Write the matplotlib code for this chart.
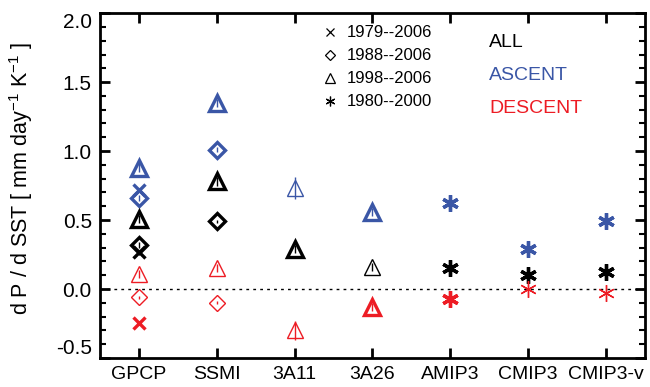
import matplotlib
matplotlib.use("Agg")
import matplotlib.pyplot as plt
from matplotlib.ticker import MultipleLocator
import numpy as np

plt.rcParams['font.family'] = ['Liberation Sans', 'DejaVu Sans']
plt.rcParams['mathtext.fontset'] = 'custom'
plt.rcParams['mathtext.rm'] = 'Liberation Sans'
plt.rcParams['mathtext.it'] = 'Liberation Sans'

categories = ["GPCP", "SSMI", "3A11", "3A26", "AMIP3", "CMIP3", "CMIP3-v"]
periods = ["1979--2006", "1988--2006", "1998--2006", "1980--2000"]
regions = ["ALL", "ASCENT", "DESCENT"]

# one entry per plotted point
pt_cat    = ["GPCP"]*9 + ["SSMI"]*6 + ["3A11"]*3 + ["3A26"]*3 + ["AMIP3"]*3 + ["CMIP3"]*3 + ["CMIP3-v"]*3
pt_period = ["1998--2006", "1979--2006", "1988--2006", "1998--2006", "1988--2006", "1979--2006",
             "1998--2006", "1988--2006", "1979--2006",
             "1998--2006", "1988--2006", "1998--2006", "1988--2006", "1998--2006", "1988--2006",
             "1998--2006", "1998--2006", "1998--2006",
             "1998--2006", "1998--2006", "1998--2006",
             "1980--2000", "1980--2000", "1980--2000",
             "1980--2000", "1980--2000", "1980--2000",
             "1980--2000", "1980--2000", "1980--2000"]
pt_region = ["ASCENT", "ASCENT", "ASCENT", "ALL", "ALL", "ALL", "DESCENT", "DESCENT", "DESCENT",
             "ASCENT", "ASCENT", "ALL", "ALL", "DESCENT", "DESCENT",
             "ASCENT", "ALL", "DESCENT",
             "ASCENT", "ALL", "DESCENT",
             "ASCENT", "ALL", "DESCENT",
             "ASCENT", "ALL", "DESCENT",
             "ASCENT", "ALL", "DESCENT"]
pt_value  = [0.88, 0.72, 0.66, 0.51, 0.32, 0.27, 0.11, -0.06, -0.25,
             1.35, 1.01, 0.78, 0.49, 0.15, -0.10,
             0.73, 0.29, -0.30,
             0.56, 0.16, -0.13,
             0.62, 0.15, -0.07,
             0.29, 0.10, 0.00,
             0.49, 0.12, -0.03]
pt_err    = [0.03, 0.0, 0.02, 0.03, 0.02, 0.0, 0.03, 0.01, 0.0,
             0.03, 0.02, 0.03, 0.01, 0.03, 0.01,
             0.08, 0.03, 0.07,
             0.03, 0.03, 0.03,
             0.0, 0.0, 0.0,
             0.0, 0.0, 0.0,
             0.0, 0.0, 0.0]
pt_thick  = [True, True, True, True, True, True, False, False, True,
             True, True, True, True, False, False,
             False, True, False,
             True, False, True,
             True, True, True,
             True, True, False,
             True, True, False]

colors = {"ALL": "black", "ASCENT": "#3a56a6", "DESCENT": "#ed1c24"}
markers = {"1979--2006": "x", "1988--2006": "D", "1998--2006": "^", "1980--2000": (6, 2, 0)}
msizes = {"1979--2006": 9, "1988--2006": 8, "1998--2006": 12, "1980--2000": 12}
leg_sizes = {"1979--2006": 6, "1988--2006": 5, "1998--2006": 7, "1980--2000": 7}

fig = plt.figure(figsize=(6.5, 3.87), dpi=100)
ax = fig.add_axes([0.154, 0.075, 0.838, 0.891])

xpos = {c: i + 1 for i, c in enumerate(categories)}
for c, p, r, v, e, t in zip(pt_cat, pt_period, pt_region, pt_value, pt_err, pt_thick):
    x = xpos[c]
    col = colors[r]
    lw = 2.4 if t else 1.0
    if e > 0:
        ax.errorbar([x], [v], yerr=[e], fmt='none', ecolor=col, elinewidth=1.0, capsize=0, zorder=2)
    ax.plot([x], [v], linestyle='none', marker=markers[p], markersize=msizes[p],
            markerfacecolor='none', markeredgecolor=col, markeredgewidth=lw, zorder=3)

ax.axhline(0.0, color='black', linestyle=(0, (2, 3)), linewidth=1.0, zorder=1)

ax.set_xlim(0.5, 7.5)
ax.set_ylim(-0.5, 2.0)
ax.set_xticks(range(1, len(categories) + 1))
ax.set_xticklabels(categories, fontsize=14)
yt = np.arange(-0.5, 2.01, 0.5)
ax.set_yticks(yt)
ylabels = ax.set_yticklabels([f"{v:.1f}" for v in yt], fontsize=15)
ylabels[0].set_va('bottom')
ylabels[-1].set_va('top')
ax.yaxis.set_minor_locator(MultipleLocator(0.1))
ax.tick_params(axis='both', which='major', direction='in', length=7, width=2,
               top=True, right=True, pad=6)
ax.tick_params(axis='y', which='minor', direction='in', length=4.3, width=1.5, right=True)
ax.tick_params(axis='x', which='minor', bottom=False, top=False)
for s in ax.spines.values():
    s.set_linewidth(2)

ax.set_ylabel(r"d P / d SST [ mm day$^{-1}$ K$^{-1}$ ]", fontsize=15.5)
ax.yaxis.set_label_coords(-0.12, 0.52)

# legend for periods
for i, p in enumerate(periods):
    yy = 1.862 - i * 0.167
    ax.plot([3.46], [yy], linestyle='none', marker=markers[p], markersize=leg_sizes[p],
            markerfacecolor='none', markeredgecolor='black', markeredgewidth=0.9,
            clip_on=False)
    ax.text(3.67, yy, p, fontsize=12, va='center', ha='left')

for i, r in enumerate(regions):
    yy = 1.79 - i * 0.24
    ax.text(5.5, yy, r, fontsize=14, va='center', ha='left', color=colors[r])

fig.savefig("out.png", dpi=100)
